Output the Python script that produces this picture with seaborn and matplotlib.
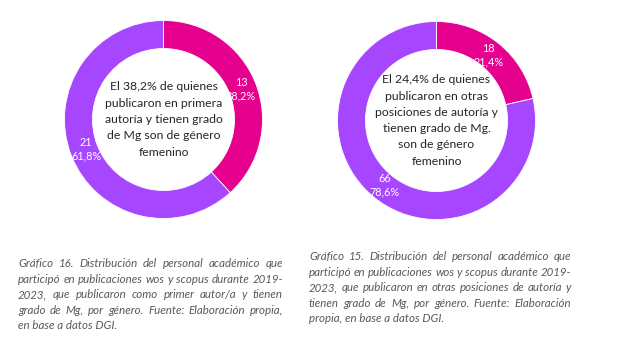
import matplotlib
matplotlib.use("Agg")
import matplotlib.pyplot as plt
import seaborn as sns
import numpy as np

sns.set_theme(style="white")
plt.rcParams['font.family'] = ['Lato', 'DejaVu Sans']

# Data
categories = ["Femenino", "Masculino"]
left_counts = [13, 21]
left_pcts = ["38,2%", "61,8%"]
right_counts = [18, 66]
right_pcts = ["21,4%", "78,6%"]
left_center = ["El 38,2% de quienes", "publicaron en primera", "autoría y tienen grado",
               "de Mg son de género", "femenino"]
right_center = ["El 24,4% de quienes", "publicaron en otras", "posiciones de autoría y",
                "tienen grado de Mg.", "son de género", "femenino"]
left_caption = ["Gráfico 16. Distribución del personal académico que",
                "participó en publicaciones wos y scopus durante 2019-",
                "2023, que publicaron como primer autor/a y tienen",
                "grado de Mg, por género. Fuente: Elaboración propia,",
                "en base a datos DGI."]
right_caption = ["Gráfico 15. Distribución del personal académico que",
                 "participó en publicaciones wos y scopus durante 2019-",
                 "2023, que publicaron en otras posiciones de autoría y",
                 "tienen grado de Mg, por género. Fuente: Elaboración",
                 "propia, en base a datos DGI."]

colors = sns.color_palette(["#E6008E", "#A647FF"])

W, H = 617, 341
fig = plt.figure(figsize=(W / 100, H / 100), dpi=100)
fig.patch.set_facecolor("white")


def donut(cx, cy, counts, pcts, center_lines, line_h):
    r = 100
    ax = fig.add_axes([(cx - r) / W, (H - cy - r) / H, 2 * r / W, 2 * r / H])
    labels = [f"{c}\n{p}" for c, p in zip(counts, pcts)]
    wedges, texts = ax.pie(counts, colors=colors, startangle=90, counterclock=False,
                           radius=0.99, labels=labels, labeldistance=0.84,
                           wedgeprops=dict(width=0.28, edgecolor="white", linewidth=0.6),
                           textprops=dict(color="white", fontsize=7.8, ha="center",
                                          va="center", linespacing=1.3))
    for t in texts:
        t.set_ha("center")
    ax.set_xlim(-1, 1)
    ax.set_ylim(-1, 1)
    ax.set_aspect("equal")
    ax.axis("off")
    n = len(center_lines)
    for i, line in enumerate(center_lines):
        y = cy + (i - (n - 1) / 2) * line_h
        fig.text(cx / W, 1 - y / H, line, ha="center", va="center",
                 fontsize=8.8, color="#262626")
    return ax


donut(163.5, 119.5, left_counts, left_pcts, left_center, 16.3)
donut(436.5, 120.5, right_counts, right_pcts, right_center, 16.3)

renderer = fig.canvas.get_renderer()
CAP_FS = 8.3


def justified(lines, x0, x1, y0, dy):
    for i, line in enumerate(lines):
        y = 1 - (y0 + i * dy) / H
        words = line.split(" ")
        last = (i == len(lines) - 1)
        if last or len(words) == 1:
            fig.text(x0 / W, y, line, ha="left", va="center", fontsize=CAP_FS,
                     style="italic", color="#595959")
            continue
        objs = []
        widths = []
        for w in words:
            t = fig.text(0, y, w, ha="left", va="center", fontsize=CAP_FS,
                         style="italic", color="#595959")
            bb = t.get_window_extent(renderer)
            objs.append(t)
            widths.append(bb.width)
        gap = ((x1 - x0) - sum(widths)) / (len(words) - 1)
        x = x0
        for t, wd in zip(objs, widths):
            t.set_x(x / W)
            x += wd + gap


justified(left_caption, 18, 283, 263.5, 15.6)
justified(right_caption, 309, 571, 256.5, 15.6)

fig.savefig("out.png", dpi=100, facecolor="white")
